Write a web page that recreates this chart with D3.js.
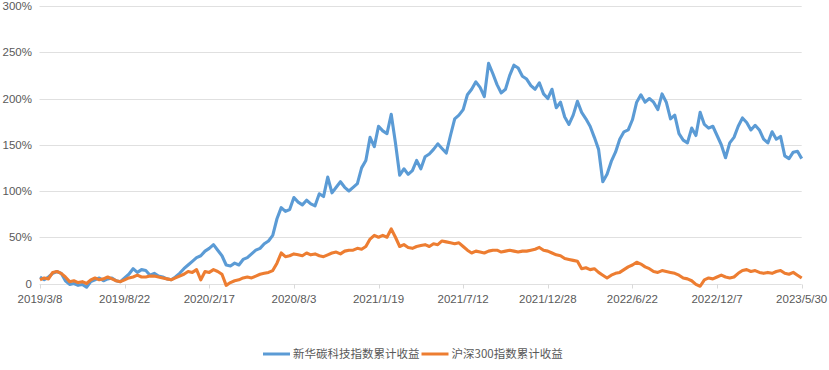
<!DOCTYPE html>
<html><head><meta charset="utf-8">
<script src="https://cdn.jsdelivr.net/npm/d3@7"></script>
<style>body{margin:0;background:#fff}svg{display:block}</style>
</head><body>
<svg id="c" width="829" height="370"></svg>
<script>
const tickLabels = ["2019/3/8","2019/8/22","2020/2/17","2020/8/3","2021/1/19","2021/7/12","2021/12/28","2022/6/22","2022/12/7","2023/5/30"];
const yTicks = [0,50,100,150,200,250,300];
const seriesNames = ["新华碳科技指数累计收益","沪深300指数累计收益"];
const blue = [7,4,7,11,13,11,3,-1,0,-2,-1,-4,2,4,6,3,5,6,3,2,
6,10,16,12,15,14,9,11,8,7,5,4,7,11,16,20,24,28,30,35,
38,42,36,30,20,19,22,20,26,28,32,36,38,43,46,52,70,82,78,80,
93,88,85,90,86,84,97,94,115,98,104,110,104,100,104,108,125,133,158,148,
170,165,162,183,152,117,124,118,122,133,124,137,140,145,151,146,141,160,178,182,
188,204,210,218,212,202,238,227,215,206,210,225,236,233,224,221,214,210,217,205,
200,210,190,196,180,172,182,197,185,178,170,158,145,110,118,132,142,156,164,166,
177,196,204,196,200,196,188,205,196,178,182,162,155,152,168,160,185,172,168,170,
160,150,136,152,158,170,179,174,166,171,166,156,152,164,156,159,138,135,142,143,135];
const orange = [4,6,5,12,13,11,7,2,3,1,2,0,4,6,4,5,7,5,3,2,
4,6,7,9,7,7,8,8,7,6,5,4,6,8,10,13,12,15,4,13,
12,15,13,10,-2,1,3,4,6,7,6,8,10,11,12,14,22,33,29,30,
32,31,30,33,31,32,30,29,31,33,34,32,35,36,36,38,37,40,48,52,
50,52,50,59,50,40,42,39,38,40,41,42,40,43,42,46,45,44,43,44,
40,36,33,35,34,33,35,36,36,34,35,36,35,34,35,35,36,37,39,36,
35,33,31,30,27,26,25,24,16,17,15,16,12,9,6,9,11,12,15,18,
20,23,21,18,16,13,12,14,13,12,11,9,6,5,3,-1,-3,4,6,5,
7,9,7,6,7,11,14,15,13,14,12,11,12,11,13,14,11,10,12,9,6];
const colors = ["#5B9BD5","#ED7D31"];

const svg = d3.select("#c");
const x = d3.scaleLinear().domain([0, blue.length-1]).range([40, 801.7]);
const y = d3.scaleLinear().domain([0,300]).range([283.5, 6]);
const font = "Helvetica, 'Liberation Sans', Arial, sans-serif";

svg.append("g").selectAll("line").data(yTicks).join("line")
  .attr("x1",39.5).attr("x2",801.7)
  .attr("y1",d=>Math.round(y(d))+0.5).attr("y2",d=>Math.round(y(d))+0.5)
  .attr("stroke","#e0e0e0").attr("stroke-width",1);
svg.append("g").selectAll("text").data(yTicks).join("text")
  .attr("x",32).attr("y",d=>y(d)).attr("dy","0.35em")
  .attr("text-anchor","end").attr("font-family",font).attr("font-size","11.5px")
  .attr("fill","#595959").text(d=>d===0?"0":d+"%");
const tickIdx = tickLabels.map((t,i)=>i*(blue.length-1)/(tickLabels.length-1));
const xa = svg.append("g").attr("transform","translate(0,"+(Math.round(y(0))+0.5)+")");
xa.selectAll("line.t").data(tickIdx).join("line").attr("class","t")
  .attr("x1",d=>Math.round(x(d))+0.5).attr("x2",d=>Math.round(x(d))+0.5)
  .attr("y1",0).attr("y2",4).attr("stroke","#d9d9d9");
xa.selectAll("text").data(tickLabels).join("text")
  .attr("x",(d,i)=>x(tickIdx[i])).attr("y",18.5)
  .attr("text-anchor","middle").attr("font-family",font).attr("font-size","11.5px")
  .attr("fill","#595959").text(d=>d);

const line = d3.line().x((d,i)=>x(i)).y(d=>y(d));
[blue, orange].forEach((s,i)=>{
  svg.append("path").datum(s).attr("d",line).attr("fill","none")
    .attr("stroke",colors[i]).attr("stroke-width",3.1).attr("stroke-linejoin","round");
});

const leg = [{x:263, name:seriesNames[0], c:colors[0]},{x:421.5, name:seriesNames[1], c:colors[1]}];
leg.forEach(l=>{
  svg.append("line").attr("x1",l.x).attr("x2",l.x+27).attr("y1",354).attr("y2",354)
    .attr("stroke",l.c).attr("stroke-width",3);
  svg.append("text").attr("x",l.x+30).attr("y",354).attr("dy","0.35em")
    .attr("font-family","'Noto Sans CJK SC', "+font).attr("font-size","11.5px")
    .attr("fill","#595959").text(l.name);
});
</script>
</body></html>
